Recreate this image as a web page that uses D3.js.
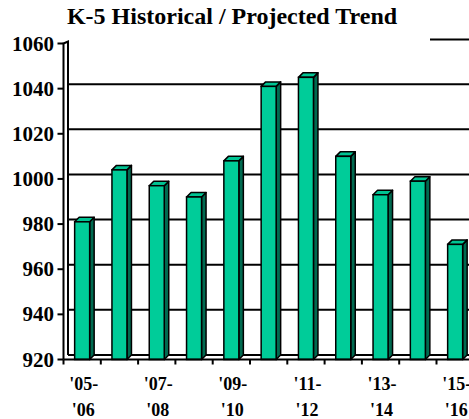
<!DOCTYPE html>
<html>
<head>
<meta charset="utf-8">
<script src="https://cdn.jsdelivr.net/npm/d3@7"></script>
<style>
  html, body { margin: 0; padding: 0; background: #fff; }
  svg { display: block; }
</style>
</head>
<body>
<svg id="chart" width="469" height="419"></svg>
<script>
// ---- data ----
const categories = ["'05-'06", "'06-'07", "'07-'08", "'08-'09", "'09-'10", "'10-'11", "'11-'12", "'12-'13", "'13-'14", "'14-'15", "'15-'16", "'16-'17"];
const labelTop = ["'05-", "", "'07-", "", "'09-", "", "'11-", "", "'13-", "", "'15-", ""];
const labelBottom = ["'06", "", "'08", "", "'10", "", "'12", "", "'14", "", "'16", ""];
const enrollment = [981, 1004, 997, 992, 1008, 1041, 1045, 1010, 993, 999, 971];
const yTicks = [920, 940, 960, 980, 1000, 1020, 1040, 1060];
const gridValues = [940, 960, 980, 1000, 1020, 1040];
const title = "K-5 Historical / Projected Trend";

// ---- layout ----
const FONT = "'Liberation Serif', 'Times New Roman', 'DejaVu Serif', serif";
const svg = d3.select("#chart");
const W = 469, H = 419;
const x0 = 63.5, band = 37.3;
const dx = 4.5, dy = 4.5;

const x = d3.scaleBand().domain(categories).range([x0, x0 + band * categories.length]).padding(0);
const y = d3.scaleLinear().domain([920, 1060]).range([359.5, 43.5]);

const frontColor = "#00CC99", sideColor = "#006A50", topColor = "#00C493";

// title
svg.append("text").attr("x", 232).attr("y", 23.5).attr("text-anchor", "middle")
  .attr("font-family", FONT).attr("font-weight", "bold")
  .attr("font-size", 24).text(title);

// legend box edge (cropped)
svg.append("line").attr("x1", 430).attr("x2", W).attr("y1", 39.5).attr("y2", 39.5)
  .attr("stroke", "#000").attr("stroke-width", 2);

const plot = svg.append("g");

// back-wall gridlines
plot.selectAll("line.grid").data(gridValues).join("line").attr("class", "grid")
  .attr("x1", x0 + dx).attr("x2", W + 5)
  .attr("y1", d => y(d) - dy).attr("y2", d => y(d) - dy)
  .attr("stroke", "#000").attr("stroke-width", 2);

// floor back edge
plot.append("line").attr("x1", x0 + dx).attr("x2", W + 5)
  .attr("y1", y(920) - dy).attr("y2", y(920) - dy)
  .attr("stroke", "#000").attr("stroke-width", 2);

// left wall
plot.append("path")
  .attr("d", `M${x0},${y(920)} V${y(1060)} L${x0 + dx},${y(1060) - 2} V${y(920) - dy}`)
  .attr("fill", "none").attr("stroke", "#000").attr("stroke-width", 2);

// bars
const bw = 15;
const bars = plot.selectAll("g.bar").data(enrollment).join("g").attr("class", "bar");
bars.each(function(v, i) {
  const g = d3.select(this);
  const L = x(categories[i]) + (x.bandwidth() - bw) / 2;
  const T = y(v), B = y(920);
  g.append("polygon")
    .attr("points", [[L + bw, T], [L + bw + dx, T - dy], [L + bw + dx, B - dy], [L + bw, B]].map(p => p.join(",")).join(" "))
    .attr("fill", sideColor).attr("stroke", "#000").attr("stroke-width", 1.5).attr("stroke-linejoin", "round");
  g.append("polygon")
    .attr("points", [[L, T], [L + dx, T - dy], [L + bw + dx, T - dy], [L + bw, T]].map(p => p.join(",")).join(" "))
    .attr("fill", topColor).attr("stroke", "#000").attr("stroke-width", 1.5).attr("stroke-linejoin", "round");
  g.append("rect").attr("x", L).attr("y", T).attr("width", bw).attr("height", B - T)
    .attr("fill", frontColor).attr("stroke", "#000").attr("stroke-width", 1.5);
});

// x axis front line
plot.append("line").attr("x1", x0).attr("x2", W + 5).attr("y1", y(920)).attr("y2", y(920))
  .attr("stroke", "#000").attr("stroke-width", 2);

// x ticks at category boundaries
const xTickPos = categories.map(c => x(c));
plot.selectAll("line.xtick").data(xTickPos).join("line").attr("class", "xtick")
  .attr("x1", d => d).attr("x2", d => d).attr("y1", y(920)).attr("y2", y(920) + 5)
  .attr("stroke", "#000").attr("stroke-width", 2);

// y ticks
plot.selectAll("line.ytick").data(yTicks).join("line").attr("class", "ytick")
  .attr("x1", x0 - 6).attr("x2", x0).attr("y1", d => y(d)).attr("y2", d => y(d))
  .attr("stroke", "#000").attr("stroke-width", 2);
svg.selectAll("text.ylab").data(yTicks).join("text").attr("class", "ylab")
  .attr("font-family", FONT).attr("font-weight", "bold")
  .attr("x", 54).attr("y", d => y(d) + 7).attr("text-anchor", "end")
  .attr("font-size", 21).text(d => d);

// x labels
svg.selectAll("text.xl1").data(categories).join("text").attr("class", "xl1")
  .attr("font-family", FONT).attr("font-weight", "bold")
  .attr("x", c => x(c) + x.bandwidth() / 2 + 1.5).attr("y", 390).attr("text-anchor", "middle")
  .attr("font-size", 18).text((c, i) => labelTop[i]);
svg.selectAll("text.xl2").data(categories).join("text").attr("class", "xl2")
  .attr("font-family", FONT).attr("font-weight", "bold")
  .attr("x", c => x(c) + x.bandwidth() / 2 + 1).attr("y", 416).attr("text-anchor", "middle")
  .attr("font-size", 18).text((c, i) => labelBottom[i]);
</script>
</body>
</html>
